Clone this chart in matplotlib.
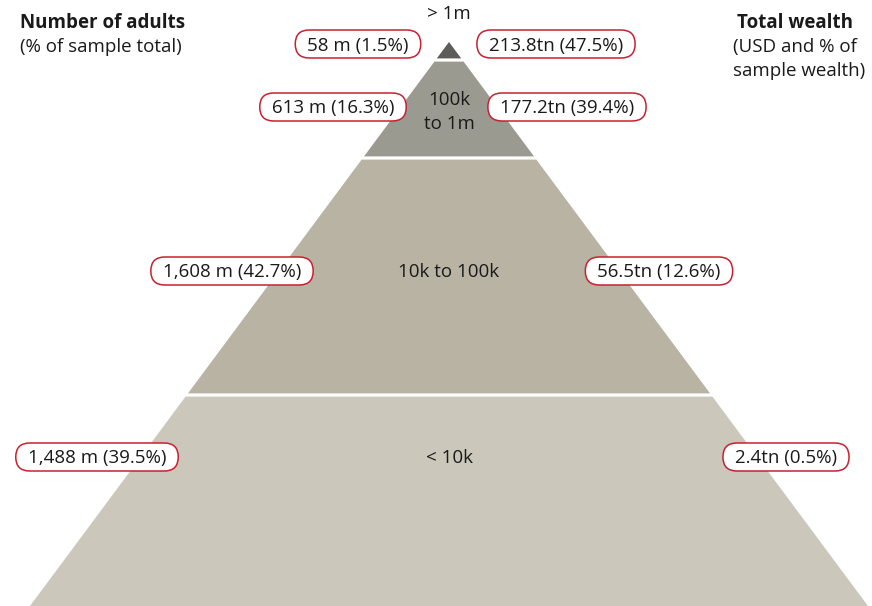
import matplotlib
matplotlib.use('Agg')
import matplotlib.pyplot as plt
from matplotlib.patches import Polygon, FancyBboxPatch

plt.rcParams['font.family'] = ['Open Sans', 'DejaVu Sans']

# ── Data ──────────────────────────────────────────────────────────────────────
TIER_LABELS = ['> 1m', '100k\nto 1m', '10k to 100k', '< 10k']
ADULTS = ['58 m (1.5%)', '613 m (16.3%)', '1,608 m (42.7%)', '1,488 m (39.5%)']
WEALTH = ['213.8tn (47.5%)', '177.2tn (39.4%)', '56.5tn (12.6%)', '2.4tn (0.5%)']
TIER_COLORS = ['#5c5c5a', '#9b9a90', '#b8b3a3', '#cbc7ba']

# ── Layout (pixels, y downward) ───────────────────────────────────────────────
W, H = 872, 606
APEX_X, APEX_Y = 449, 42
BASE_Y, BASE_HALF = 606, 419
BOUNDS = [42, 60, 158, 395, 606]       # tier top/bottom y
GAP = 1.6
LABEL_Y = [44, 107, 271, 457]
LEFT_X = [358, 333, 232, 97]
RIGHT_X = [556, 567, 659, 786]
TIER_TEXT_Y = [14, 112, 272, 458]
RED = '#c8202f'
TXT = '#1a1a1a'
FS = 13.5


def half_width(y):
    return (y - APEX_Y) * BASE_HALF / (BASE_Y - APEX_Y)


fig = plt.figure(figsize=(W / 100, H / 100), dpi=100)
ax = fig.add_axes([0, 0, 1, 1])
ax.set_xlim(0, W)
ax.set_ylim(H, 0)
ax.axis('off')

for i, col in enumerate(TIER_COLORS):
    y0 = BOUNDS[i] + (GAP if i > 0 else 0)
    y1 = BOUNDS[i + 1] - (GAP if i < 3 else 0)
    h0, h1 = half_width(y0), half_width(y1)
    pts = [(APEX_X - h0, y0), (APEX_X + h0, y0),
           (APEX_X + h1, y1), (APEX_X - h1, y1)]
    ax.add_patch(Polygon(pts, closed=True, facecolor=col, edgecolor='none'))

for lab, y in zip(TIER_LABELS, TIER_TEXT_Y):
    ax.text(APEX_X, y, lab, ha='center', va='center', fontsize=FS,
            color=TXT, linespacing=1.4)

fig.canvas.draw()
renderer = fig.canvas.get_renderer()


def pill(x, y, s):
    t = ax.text(x, y + 1.5, s, ha='center', va='center', fontsize=FS,
                color=TXT, zorder=4)
    bb = t.get_window_extent(renderer)
    w = bb.width + 24
    h = 28
    ax.add_patch(FancyBboxPatch((x - w / 2, y - h / 2), w, h,
                                boxstyle=f'round,pad=0,rounding_size={h / 2}',
                                facecolor='white', edgecolor=RED,
                                linewidth=1.1, zorder=3))


for s, x, y in zip(ADULTS, LEFT_X, LABEL_Y):
    pill(x, y, s)
for s, x, y in zip(WEALTH, RIGHT_X, LABEL_Y):
    pill(x, y, s)

# Headers
ax.text(20, 23, 'Number of adults', ha='left', va='center', fontsize=FS,
        fontweight='bold', color=TXT)
ax.text(20, 47, '(% of sample total)', ha='left', va='center', fontsize=FS,
        color=TXT)
ax.text(853, 23, 'Total wealth', ha='right', va='center', fontsize=FS,
        fontweight='bold', color=TXT)
ax.text(733, 47, '(USD and % of', ha='left', va='center', fontsize=FS,
        color=TXT)
ax.text(733, 71, 'sample wealth)', ha='left', va='center', fontsize=FS,
        color=TXT)

fig.savefig('out.png', dpi=100)
